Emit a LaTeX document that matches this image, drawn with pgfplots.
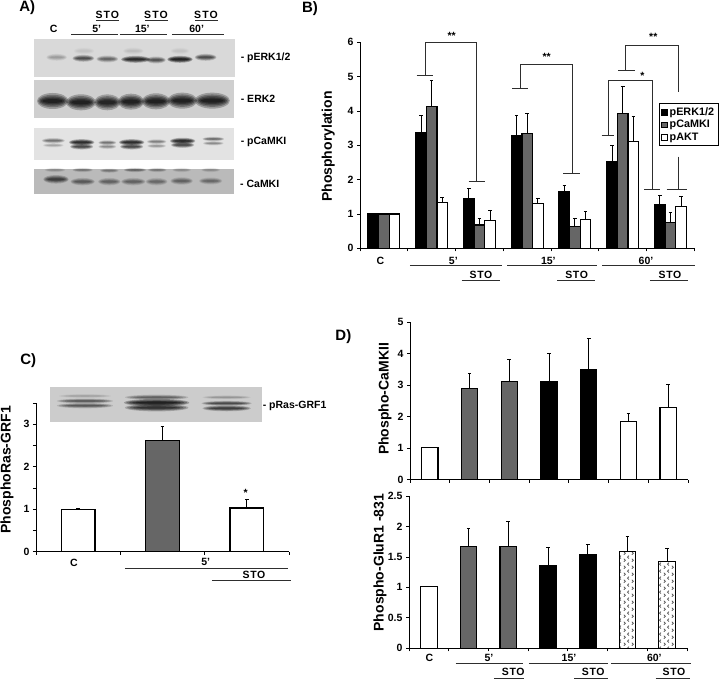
\documentclass[border=0pt]{standalone}
\usepackage{fontspec}
\setmainfont{Liberation Sans}
\usepackage{pgfplots}
\usepackage{pgfplotstable}
\pgfplotsset{compat=1.18}
\usetikzlibrary{patterns}
\definecolor{bargray}{HTML}{666666}
\definecolor{linec}{HTML}{2E2E2E}
\pgfdeclarepatternformonly{chev}{\pgfqpoint{0pt}{0pt}}{\pgfqpoint{7.6pt}{6.7pt}}{\pgfqpoint{7.6pt}{6.7pt}}{
 \pgfsetlinewidth{0.7pt}
 \pgfpathmoveto{\pgfqpoint{0.9pt}{0.3pt}}\pgfpathlineto{\pgfqpoint{2.5pt}{1.8pt}}\pgfpathlineto{\pgfqpoint{0.9pt}{3.3pt}}
 \pgfpathmoveto{\pgfqpoint{6.3pt}{3.6pt}}\pgfpathlineto{\pgfqpoint{4.7pt}{5.1pt}}\pgfpathlineto{\pgfqpoint{6.3pt}{6.6pt}}
 \pgfusepath{stroke}}
\pgfplotstableread{
x y e
0 1 0
1 3.38 0.49
2 1.45 0.29
3 3.27 0.61
4 1.65 0.17
5 2.53 0.47
6 1.28 0.25
}\Bblack
\pgfplotstableread{
x y e
0 1 0
1 4.12 0.76
2 0.68 0.20
3 3.35 0.57
4 0.63 0.23
5 3.92 0.78
6 0.74 0.29
}\Bgray
\pgfplotstableread{
x y e
0 1 0
1 1.33 0.15
2 0.80 0.30
3 1.30 0.14
4 0.85 0.23
5 3.12 0.73
6 1.22 0.28
}\Bwhite
\pgfplotstableread{
x y e
0 1.00 0.02
2 1.03 0.20
}\Cwhite
\pgfplotstableread{
x y e
1 2.61 0.35
}\Cgray
\pgfplotstableread{
x y e
0 1.02 0.00
5 1.85 0.24
6 2.28 0.74
}\Dwhite
\pgfplotstableread{
x y e
1 2.90 0.47
2 3.12 0.68
}\Dgray
\pgfplotstableread{
x y e
3 3.10 0.90
4 3.49 0.99
}\Dblack
\pgfplotstableread{
x y e
0 1.01 0
}\Ewhite
\pgfplotstableread{
x y e
1 1.67 0.30
2 1.67 0.41
}\Egray
\pgfplotstableread{
x y e
3 1.35 0.30
4 1.53 0.17
}\Eblack
\pgfplotstableread{
x y e
5 1.59 0.24
6 1.43 0.21
}\Edots
\pgfplotsset{
 panel/.style={
  scale only axis, axis lines=left, axis line style={-,black,line width=0.9pt},
  anchor=south west, clip=false,
  ybar, ymin=0, xmin=-0.5, xmax=#1,
  tick align=outside, major tick length=3pt,
  tick style={black,line width=0.8pt},
  xtick={-0.5,0.5,...,#1}, xticklabels={},
  tick label style={font=\bfseries\fontsize{10.5}{12}\selectfont},
  /pgf/number format/assume math mode=true,
  every axis plot/.append style={line width=1.2pt,draw=black},
 },
 ylab/.style n args={3}{ylabel={#3},
  every axis y label/.style={at={(axis description cs:#1,#2)},rotate=90,anchor=center,
   font=\bfseries\fontsize{14}{16}\selectfont}},
 eb/.style={error bars/.cd, y dir=plus, y explicit,
   error bar style={line width=1pt,black},
   error mark options={rotate=90,mark size=1.8pt,line width=1pt,black}},
}
\newcommand{\band}[5]{% cx cy w h darkness
 \fill[black,opacity=#5*0.25] (#1,#2) ellipse ({#3*0.56} and {#4*0.80});
 \fill[black,opacity=#5*0.28] (#1,#2) ellipse ({#3*0.52} and {#4*0.62});
 \fill[black,opacity=#5*0.30] (#1,#2) ellipse ({#3*0.47} and {#4*0.47});
 \fill[black,opacity=#5*0.32] (#1,#2) ellipse ({#3*0.42} and {#4*0.33});
 \fill[black,opacity=#5*0.35] (#1,#2) ellipse ({#3*0.36} and {#4*0.20});
}
\begin{document}
\begin{tikzpicture}
\path[use as bounding box] (0,0) rectangle (720pt,-679pt);
% --- panel B
\begin{axis}[panel=6.5, at={(360pt,-248.3pt)}, width=334.4pt, height=206pt,
  ybar=0pt, bar width=10.6pt, ymax=6, ytick={0,...,6},
  legend style={at={(0.894,0.705)},anchor=north west,font=\bfseries\fontsize{10.8}{12}\selectfont,
    draw=black,line width=0.8pt,inner sep=2pt,row sep=-0.5pt,fill=white},
  legend cell align=left, legend image code/.code={
    \draw[line width=0.7pt,draw=black,#1] (0pt,-2.8pt) rectangle (5.6pt,2.8pt);}]
 \addplot[fill=black,eb] table[x=x,y=y,y error=e] {\Bblack};
 \addplot[fill=bargray,eb] table[x=x,y=y,y error=e] {\Bgray};
 \addplot[fill=white,eb] table[x=x,y=y,y error=e] {\Bwhite};
 \legend{pERK1/2,pCaMKI,pAKT}
\end{axis}
% --- panel C
\begin{axis}[panel=2.5, at={(36pt,-551.7pt)}, width=253pt, height=148.6pt,
  ymax=3.5, ytick={0,0.5,...,3.5}, yticklabels={0,,1,,2,,3,},
  ylab={-0.115}{0.55}{PhosphoRas-GRF1}]
 \addplot[fill=white,bar width=33.7pt,bar shift=0pt,eb] table[x=x,y=y,y error=e] {\Cwhite};
 \addplot[fill=bargray,bar width=33.7pt,bar shift=0pt,eb] table[x=x,y=y,y error=e] {\Cgray};
\end{axis}
% --- panel D top
\begin{axis}[panel=6.5, at={(410pt,-479.7pt)}, width=278pt, height=157.7pt,
  ymax=5, ytick={0,...,5}, ylab={-0.09}{0.512}{Phospho-CaMKII}]
 \addplot[fill=white,bar width=16.3pt,bar shift=0pt,eb] table[x=x,y=y,y error=e] {\Dwhite};
 \addplot[fill=bargray,bar width=16.3pt,bar shift=0pt,eb] table[x=x,y=y,y error=e] {\Dgray};
 \addplot[fill=black,bar width=16.3pt,bar shift=0pt,eb] table[x=x,y=y,y error=e] {\Dblack};
\end{axis}
% --- panel D bottom
\begin{axis}[panel=6.5, at={(409pt,-648.3pt)}, width=278pt, height=152.3pt,
  ymax=2.5, ytick={0,0.5,1,1.5,2,2.5}, yticklabels={0,0.5,1,1.5,2,2.5},
  ylab={-0.104}{0.563}{Phospho-GluR1 -831}]
 \addplot[fill=white,bar width=16.6pt,bar shift=0pt,eb] table[x=x,y=y,y error=e] {\Ewhite};
 \addplot[fill=bargray,bar width=16.6pt,bar shift=0pt,eb] table[x=x,y=y,y error=e] {\Egray};
 \addplot[fill=black,bar width=16.6pt,bar shift=0pt,eb] table[x=x,y=y,y error=e] {\Eblack};
 \addplot[pattern=chev,pattern color=black!70,bar width=16.6pt,bar shift=0pt,eb] table[x=x,y=y,y error=e] {\Edots};
\end{axis}
\tikzset{lb/.style={font=\bfseries\fontsize{10.5}{12}\selectfont,inner sep=0pt},
         tl/.style={linec,line width=1pt},
         pl/.style={font=\bfseries\fontsize{14}{16}\selectfont,inner sep=0pt}}
% --- panel A blots (zoom coordinates, origin 0,0)
\begin{scope}[x=0.3333pt,y=-0.3333pt]
 \fill[black!15] (102,118) rectangle (705,232);
 \fill[black!19] (102,241) rectangle (703,355);
 \fill[black!11] (102,385) rectangle (703,481);
 \fill[black!27] (102,506) rectangle (703,583);
 \foreach \c/\y/\w/\d in {170/172/55/0.2,250/175/58/0.6,322/177/58/0.45,407/178/78/0.9,468/180/52/0.55,540/178/68/1,617/172/58/0.6,252/153/55/0.06,400/153/55/0.08,540/153/50/0.06}
   {\band{\c}{\y}{\w}{13}{\d}}
 \foreach \c/\y/\w/\d in {158/303/84/1,243/307/80/1,322/307/70/0.95,393/305/70/1,468/304/76/1,547/302/80/1,637/302/94/1}
   {\band{\c}{\y}{\w}{30}{\d}}
 \foreach \c/\y/\w/\h/\d in {160/422/62/10/0.4,160/436/55/8/0.2,245/427/68/12/0.9,245/440/62/11/0.65,322/428/48/9/0.4,322/440/48/9/0.3,395/427/68/12/0.9,395/440/62/11/0.65,470/425/52/9/0.35,470/438/50/8/0.25,548/423/68/12/0.9,548/435/62/11/0.65,640/417/58/8/0.45,640/430/55/8/0.3}
   {\band{\c}{\y}{\w}{\h}{\d}}
 \foreach \c/\y/\w/\h/\d in {168/538/68/16/0.65,248/545/65/14/0.45,328/545/60/14/0.4,400/545/65/14/0.4,470/545/58/14/0.35,545/543/60/14/0.4,632/543/62/13/0.35,165/510/55/8/0.2,248/510/55/8/0.3,328/512/50/8/0.3,405/510/60/8/0.4,472/510/50/8/0.3,545/510/50/8/0.2,632/510/50/8/0.2}
   {\band{\c}{\y}{\w}{\h}{\d}}
 \node[pl,font=\bfseries\fontsize{15}{16}\selectfont] at (82,24) {A)};
 \foreach \x/\t in {322/STO,468/STO,618/STO} {\node[lb] at (\x,44) {\addfontfeature{LetterSpace=10}\t};}
 \foreach \a/\b in {288/358,435/505,585/655} {\draw[tl] (\a,62)--(\b,62);}
 \foreach \x/\t in {161/C,290/5’,427/15’,590/60’} {\node[lb] at (\x,87) {\t};}
 \foreach \a/\b in {214/353,360/502,516/673} {\draw[tl] (\a,104)--(\b,104);}
 \node[lb,anchor=west] at (722,172) {- pERK1/2};
 \node[lb,anchor=west] at (722,296) {- ERK2};
 \node[lb,anchor=west] at (722,425) {- pCaMKI};
 \node[lb,anchor=west] at (720,553) {- CaMKI};
\end{scope}
% --- panel B annotations (zoom coordinates, origin 310,0)
\begin{scope}[shift={(310pt,0pt)},x=0.3333pt,y=-0.3333pt]
 \node[pl,font=\bfseries\fontsize{15}{16}\selectfont] at (0,26) {B)};
 \node[lb,rotate=90,font=\bfseries\fontsize{14}{16}\selectfont] at (55,440) {Phosphorylation};
 \foreach \x/\t in {211/C,430/5’,715/15’,1008/60’} {\node[lb] at (\x,782) {\t};}
 \foreach \a/\b in {300/577,592/862,877/1155} {\draw[tl] (\a,798)--(\b,798);}
 \foreach \x in {513,800,1080} {\node[lb] at (\x,825) {\addfontfeature{LetterSpace=6}STO};}
 \foreach \a/\b in {455/570,742/855,1020/1135} {\draw[tl] (\a,842)--(\b,842);}
 \draw[tl] (320,228)--(370,228) (347,228)--(347,128)--(499,128)--(499,546) (476,546)--(525,546);
 \draw[tl] (607,266)--(655,266) (631,266)--(631,193)--(787,193)--(787,522) (760,522)--(810,522);
 \draw[tl] (925,211)--(975,211) (948,211)--(948,138)--(1105,138)--(1105,275) (1105,470)--(1105,568) (1070,568)--(1132,568);
 \draw[tl] (875,408)--(912,408) (895,408)--(895,242)--(1028,242)--(1028,568) (1003,568)--(1050,568);
 \node[lb] at (425,108) {**};
 \node[lb] at (710,172) {**};
 \node[lb] at (1030,112) {**};
 \node[lb] at (997,228) {*};
\end{scope}
% --- panel C annotations (zoom coordinates, origin 0,340)
\begin{scope}[shift={(0pt,-340pt)},x=0.3333pt,y=-0.3333pt]
 \node[pl,font=\bfseries\fontsize{15}{16}\selectfont] at (85,62) {C)};
 \fill[black!20] (150,141) rectangle (785,246);
 \foreach \c/\y/\w/\h/\d in {255/168/140/7/0.15,255/183/150/9/0.5,255/197/150/10/0.5,470/172/170/10/0.45,470/188/175/14/1,470/203/170/14/0.8,680/172/130/7/0.2,680/190/135/9/0.6,680/205/130/11/0.7}
   {\band{\c}{\y}{\w}{\h}{\d}}
 \node[lb,anchor=west] at (788,197) {- pRas-GRF1};
 \node[lb] at (222,668) {C};
 \node[lb] at (617,667) {5’};
 \draw[tl] (375,685)--(864,685);
 \node[lb] at (762,705) {\addfontfeature{LetterSpace=6}STO};
 \draw[tl] (636,723)--(873,723);
 \node[lb] at (737,460) {*};
\end{scope}
% --- panel D annotations (zoom coordinates, origin 370,310)
\begin{scope}[shift={(370pt,-310pt)},x=0.3333pt,y=-0.3333pt]
 \node[pl,font=\bfseries\fontsize{15}{16}\selectfont] at (-80,80) {D)};
 \foreach \x/\t in {178/C,357/5’,597/15’,853/60’} {\node[lb] at (\x,1044) {\t};}
 \foreach \a/\b in {257/458,477/715,723/963} {\draw[tl] (\a,1062)--(\b,1062);}
 \foreach \x in {430,670,912} {\node[lb] at (\x,1087) {\addfontfeature{LetterSpace=6}STO};}
 \foreach \a/\b in {372/462,613/715,857/960} {\draw[tl] (\a,1105)--(\b,1105);}
\end{scope}
\end{tikzpicture}
\end{document}
